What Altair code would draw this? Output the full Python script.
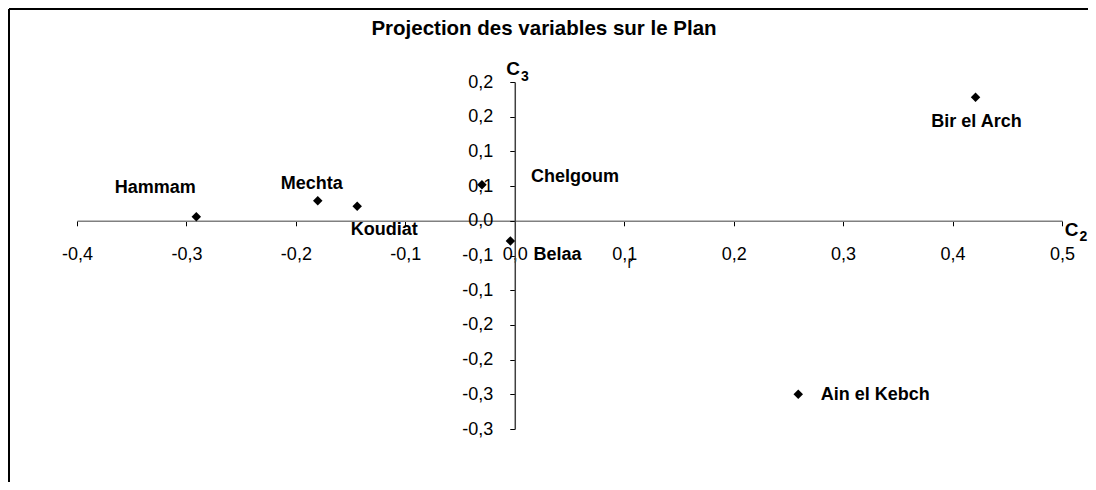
import altair as alt
import pandas as pd

# ---- data ----
names = ["Hammam", "Mechta", "Koudiat", "Chelgoum", "Belaa", "Bir el Arch", "Ain el Kebch"]
c2 = [-0.291, -0.180, -0.144, -0.030, -0.004, 0.421, 0.259]
c3 = [0.006, 0.029, 0.021, 0.052, -0.029, 0.178, -0.250]

x_ticks = [-0.4, -0.3, -0.2, -0.1, 0.0, 0.1, 0.2, 0.3, 0.4, 0.5]
x_tick_labels = ["-0,4", "-0,3", "-0,2", "-0,1", "0,0", "0,1", "0,2", "0,3", "0,4", "0,5"]
y_ticks = [-0.3, -0.25, -0.2, -0.15, -0.1, -0.05, 0.0, 0.05, 0.1, 0.15, 0.2]
y_tick_labels = ["-0,3", "-0,3", "-0,2", "-0,2", "-0,1", "-0,1", "0,0", "0,1", "0,1", "0,2", "0,2"]

title_text = "Projection des variables sur le Plan"

# label offsets (pixels) from each point, as placed in the reference
label_offsets = {
    "Hammam": (-41, -29),
    "Mechta": (-6, -17),
    "Koudiat": (27, 24),
    "Chelgoum": (93, -8),
    "Belaa": (47, 14),
    "Bir el Arch": (1, 25),
    "Ain el Kebch": (77, 1),
}

FONT = "Liberation Sans"
W, H = 985, 347
PAD = {"left": 69, "top": 74, "right": 26, "bottom": 53}

df = pd.DataFrame({"name": names, "c2": c2, "c3": c3})

def js_list(lst):
    return "[" + ",".join("'" + s + "'" for s in lst) + "]"

x_dom = [x_ticks[0], x_ticks[-1]]
y_dom = [y_ticks[0], y_ticks[-1]]
x_zero_px = W * (0 - x_dom[0]) / (x_dom[1] - x_dom[0])
y_zero_px = H * (y_dom[1] - 0) / (y_dom[1] - y_dom[0])

x_axis = alt.Axis(
    values=x_ticks,
    labelExpr=js_list(x_tick_labels) + "[round(datum.value*10)+4]",
    offset=-(H - y_zero_px),
    orient="bottom",
    domainColor="#808080",
    domainWidth=1.5,
    tickColor="black",
    tickSize=5,
    tickWidth=1,
    labelPadding=20,
    labelFontSize=18,
    labelFont=FONT,
    labelColor="black",
    labelOverlap=False,
    labelFlush=False,
    grid=False,
    title=None,
)
y_axis = alt.Axis(
    values=y_ticks,
    labelExpr=js_list(y_tick_labels) + "[round(datum.value*20)+6]",
    offset=-x_zero_px,
    orient="left",
    domainColor="#404040",
    domainWidth=1.5,
    tickColor="black",
    tickSize=5,
    tickWidth=1,
    labelPadding=17,
    labelFontSize=18,
    labelFont=FONT,
    labelColor="black",
    labelOverlap=False,
    labelFlush=False,
    grid=False,
    title=None,
)

base = alt.Chart(df).encode(
    x=alt.X("c2:Q", scale=alt.Scale(domain=x_dom, nice=False, zero=False), axis=x_axis),
    y=alt.Y("c3:Q", scale=alt.Scale(domain=y_dom, nice=False, zero=False), axis=y_axis),
)

points = base.mark_point(shape="diamond", filled=True, color="black", size=90, opacity=1)

layers = [points]
for n in names:
    dx, dy = label_offsets[n]
    layers.append(
        base.transform_filter(alt.datum.name == n)
        .mark_text(dx=dx, dy=dy, font=FONT, fontSize=18, fontWeight="bold",
                   color="black", align="center", baseline="middle")
        .encode(text="name:N")
    )

def free_text(txt, px, py, size, bold=True, align="center"):
    return alt.Chart(pd.DataFrame({"t": [txt]})).mark_text(
        font=FONT, fontSize=size, fontWeight="bold" if bold else "normal",
        color="black", align=align, baseline="middle"
    ).encode(x=alt.value(px), y=alt.value(py), text="t:N")

X0, Y0 = 77, 82  # page position of plot origin
layers += [
    free_text(title_text, 544 - X0, 29 - Y0, 20.5),
    free_text("C", 513 - X0, 69 - Y0, 19),
    free_text("3", 525 - X0, 77 - Y0, 14),
    free_text("C", 1071.5 - X0, 229.5 - Y0, 19),
    free_text("2", 1083.5 - X0, 237 - Y0, 14),
    free_text("r", 630 - X0, 263 - Y0, 15, bold=False),
]

# chart-area border (left and top edges visible in the reference)
border_df = pd.DataFrame({"k": [0]})
layers += [
    alt.Chart(border_df).mark_rule(color="black", strokeWidth=2).encode(
        x=alt.value(-PAD["left"] + 1), y=alt.value(-PAD["top"] + 1), y2=alt.value(H + PAD["bottom"])
    ),
    alt.Chart(border_df).mark_rule(color="black", strokeWidth=2).encode(
        x=alt.value(-PAD["left"] + 1), x2=alt.value(W + PAD["right"]), y=alt.value(-PAD["top"] + 1)
    ),
]

chart = alt.layer(*layers).properties(
    width=W, height=H,
    autosize=alt.AutoSizeParams(type="none"),
    padding=PAD,
    background="white",
).configure_view(stroke=None)

chart.save("out.html", embed_options={"renderer": "svg", "actions": False})
